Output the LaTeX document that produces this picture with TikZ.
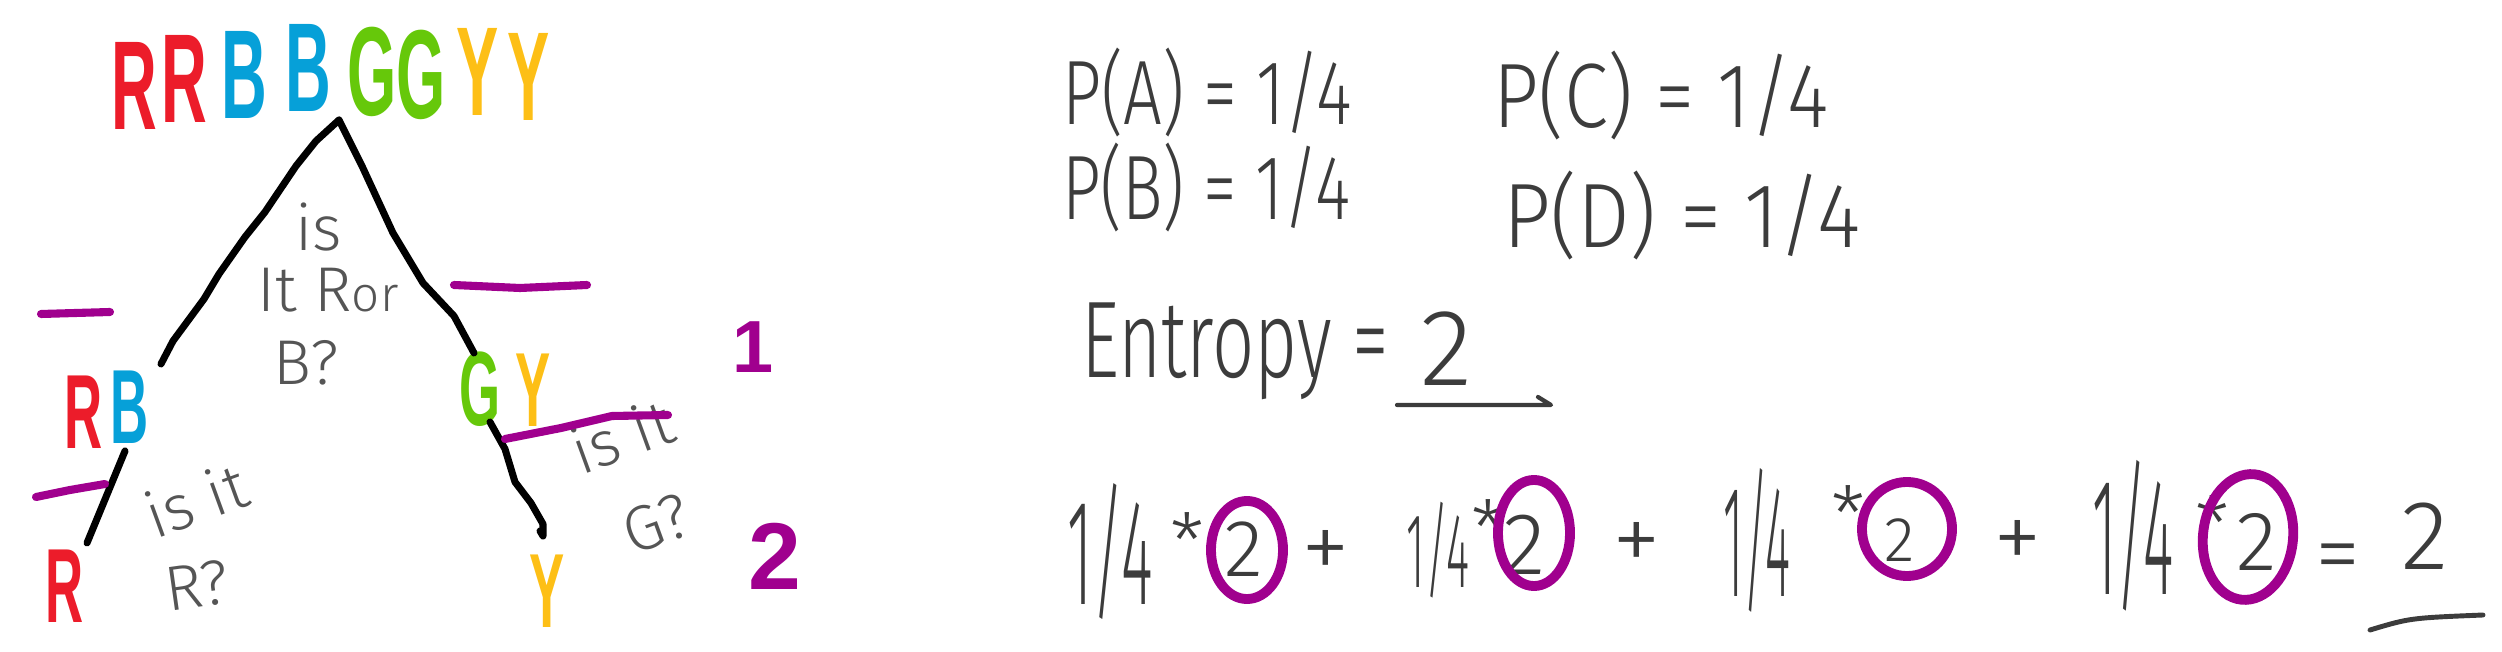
\documentclass[tikz,border=0pt]{standalone}
\usepackage{fontspec}
\setmainfont{Liberation Sans}
\newfontfamily\handfont{Fira Sans Light}
\definecolor{hred}{HTML}{EC1C2A}
\definecolor{hblue}{HTML}{06A0D8}
\definecolor{hgreen}{HTML}{66C80A}
\definecolor{hyellow}{HTML}{FDBF16}
\definecolor{hpurple}{HTML}{A0008E}
\definecolor{notegray}{HTML}{555555}
\definecolor{inkgray}{HTML}{3C3C3C}
\begin{document}
\begin{tikzpicture}[x=0.01cm,y=-0.01cm,
  every node/.style={inner sep=0pt, outer sep=0pt},
  letter/.style={font=\fontsize{36}{36}\selectfont\bfseries, xscale=0.5},
  midletter/.style={font=\fontsize{30}{30}\selectfont\bfseries, xscale=0.5},
  note/.style={font=\handfont\fontsize{18}{18}\selectfont, text=notegray},
  eq/.style={font=\handfont\fontsize{26}{26}\selectfont, text=inkgray},
  frac/.style={font=\handfont\fontsize{36}{36}\selectfont, text=inkgray},
  plussign/.style={font=\handfont\fontsize{28}{28}\selectfont, text=inkgray, anchor=base},
  starsign/.style={font=\handfont\fontsize{22}{22}\selectfont, text=inkgray, anchor=base},
  branch/.style={draw=black, line width=2pt, line cap=round, line join=round},
  pline/.style={draw=hpurple, line width=2.3pt, line cap=round, line join=round},
  circ/.style={draw=hpurple, line width=2.8pt},
  num/.style={font=\fontsize{21}{21}\selectfont\bfseries, text=hpurple}
]
\useasboundingbox (0,0) rectangle (2502,652);

% top sequence
\node[letter,text=hred]    (t1) at (134,86) {R};
\node[letter,text=hred]    (t2) at (184,79) {R};
\node[letter,text=hblue]   (t3) at (244,75) {B};
\node[letter,text=hblue]   (t4) at (308,68) {B};
\node[letter,text=hgreen]  (t5) at (372,72) {G};
\node[letter,text=hgreen]  (t6) at (421,75) {G};
\node[letter,text=hyellow] (t7) at (478,72) {Y};
\node[letter,text=hyellow] (t8) at (529,77) {Y};

% second level
\node[midletter,text=hred]    (rbR) at (84,412) {R};
\node[midletter,text=hblue]   (rbB) at (130,407) {B};
\node[midletter,text=hgreen]  (gyG) at (480,389) {G};
\node[midletter,text=hyellow] (gyY) at (533,390) {Y};

% leaves
\node[midletter,text=hred]    (leafR) at (65,586) {R};
\node[midletter,text=hyellow] (leafY) at (547,591) {Y};

% branches
\coordinate (apex) at (339,120);
\coordinate (lend) at (161,364);
\coordinate (rend) at (474,353);
\coordinate (rbbot) at (125,451);
\coordinate (rtop) at (87,543);
\coordinate (gybot) at (490,422);
\coordinate (ytop) at (543,536);
\draw[branch] (apex) -- (316,141) -- (296,166) -- (265,212) -- (245,237) -- (219,274) -- (204,299) -- (173,341) -- (lend);
\draw[branch] (apex) -- (362,166) -- (393,233) -- (423,283) -- (454,316) -- (rend);
\draw[branch] (rbbot) -- (rtop);
\draw[branch] (gybot) -- (505,449) -- (515,482) -- (531,503) -- (543,524) -- (ytop) -- (540,531);

% questions
\node[note] (q1a) at (319,227) {is};
\node[note] (q1b) at (328,290) {It R{\fontsize{14}{14}\selectfont or}};
\node[note] (q1c) at (306,363) {B?};
\node[note, rotate=20] (q2a) at (196,500) {is it};
\node[note, rotate=8] (q2b) at (197,586) {R?};
\node[note, rotate=20] (q3a) at (622,436) {is it};
\node[note, rotate=20] (q3b) at (656,524) {G?};

% purple marks
\coordinate (d1a) at (41,314); \coordinate (d1b) at (110,312);
\coordinate (d2a) at (454,285); \coordinate (d2b) at (587,285);
\coordinate (d3a) at (36,497); \coordinate (d3b) at (105,484);
\coordinate (d4a) at (505,439); \coordinate (d4b) at (668,415);
\draw[pline] (d1a) -- (d1b);
\draw[pline] (d2a) -- (520,288) -- (d2b);
\draw[pline] (d3a) -- (70,490) -- (d3b);
\draw[pline] (d4a) -- (561,428) -- (612,416) -- (d4b);
\node[num] (n1) at (753,347) {1};
\node[num, font=\fontsize{27}{27}\selectfont\bfseries] (n2) at (775,556) {2};

% probabilities
\node[eq, anchor=base west, xscale=0.75] (pa) at (1062,125) {P(A) = 1/4};
\node[eq, anchor=base west, xscale=0.87] (pc) at (1493,128) {P(C) = 1/4};
\node[eq, anchor=base west, xscale=0.74] (pb) at (1062,220) {P(B) = 1/4};
\node[eq, anchor=base west, xscale=0.91] (pd) at (1503,248) {P(D) = 1/4};

% entropy
\node[eq, font=\handfont\fontsize{31}{31}\selectfont, anchor=base west, xscale=0.68] (ent) at (1081,378) {Entropy =};
\node[eq, font=\handfont\fontsize{31}{31}\selectfont, anchor=base west] (ent2) at (1420,386) {2};
\coordinate (ul1) at (1397,405);
\coordinate (ul2) at (1551,405);
\draw[draw=inkgray, line width=1.2pt, line cap=round, line join=round] (ul1) -- (ul2) -- (1538,397);

% bottom equation
\node[frac, xscale=0.48, yscale=1.19] (f1) at (1110,552) {1/4};
\node[frac, xscale=0.35, yscale=0.84] (f2) at (1438,550) {1/4};
\node[frac, xscale=0.38, yscale=1.26] (f3) at (1757,540) {1/4};
\node[frac, xscale=0.46, yscale=1.32] (f4) at (2133,536) {1/4};
\node[starsign] (s1) at (1187,570) {*};
\node[starsign] (s2) at (1488,557) {*};
\node[starsign] (s3) at (1848,543) {*};
\node[starsign] (s4) at (2212,553) {*};
\node[eq, font=\handfont\fontsize{23}{23}\selectfont] (c1) at (1244,549) {2};
\node[eq, font=\handfont\fontsize{25}{25}\selectfont] (c2) at (1525,545) {2};
\node[eq, font=\handfont\fontsize{18}{18}\selectfont] (c3) at (1900,540) {2};
\node[eq, font=\handfont\fontsize{24}{24}\selectfont] (c4) at (2257,542) {2};
\node[plussign] (p1) at (1326,581) {+};
\node[plussign] (p2) at (1637,573) {+};
\node[plussign] (p3) at (2018,571) {+};
\node[eq, font=\handfont\fontsize{26}{26}\selectfont, anchor=base] (eqs) at (2338,585) {=};
\node[eq, font=\handfont\fontsize{28}{28}\selectfont, anchor=base] (res) at (2425,570) {2};
\coordinate (u1) at (2370,630);
\coordinate (u2) at (2483,615);
\draw[draw=inkgray, line width=1.4pt, line cap=round] (u1) .. controls (2410,618) .. (u2);

% circles
\coordinate (o1) at (1247,550);
\coordinate (o2) at (1534,533);
\coordinate (o3) at (1907,529);
\coordinate (o4) at (2248,537);
\draw[circ] (o1) ellipse [x radius=0.36cm, y radius=0.49cm];
\draw[circ] (o2) ellipse [x radius=0.36cm, y radius=0.53cm];
\draw[circ] (o3) ellipse [x radius=0.45cm, y radius=0.47cm];
\draw[circ, rotate around={-6:(o4)}] (o4) ellipse [x radius=0.45cm, y radius=0.63cm];
\end{tikzpicture}
\end{document}
